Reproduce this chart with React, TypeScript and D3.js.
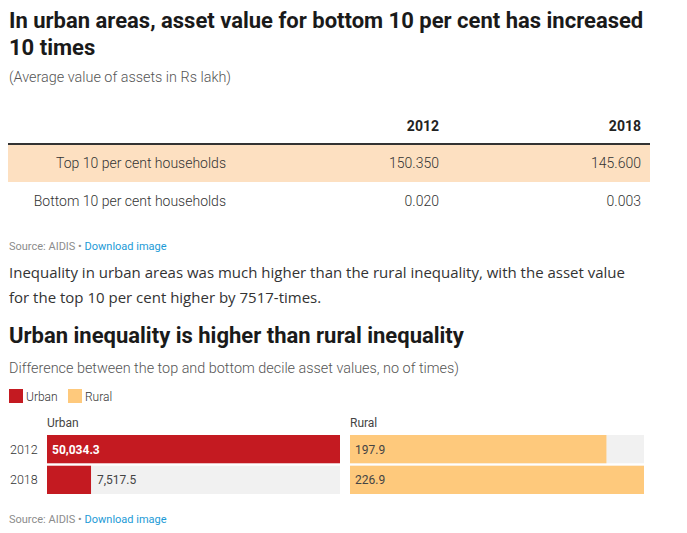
import React from "react";
import * as d3 from "d3";

const width = 687;
const height = 533;

// table: average value of assets (Rs lakh)
const tableYears = ["2012", "2018"];
const tableRows = ["Top 10 per cent households", "Bottom 10 per cent households"];
const topDecile = [150.35, 145.6];
const bottomDecile = [0.02, 0.003];

// bar panels: top vs bottom decile ratio
const barYears = ["2012", "2018"];
const urbanValues = [50034.3, 7517.5];
const ruralValues = [197.9, 226.9];
const seriesNames = ["Urban", "Rural"];

const RED = "#c41a21";
const ORANGE = "#fec97c";
const ROW_BG = "#fde0c1";
const TRACK = "#f1f1f1";
const ROBOTO = "Roboto, sans-serif";
const OPEN = "'Open Sans', sans-serif";

function Source({ y }: { y: number }) {
  return (
    <text x={9} y={y} fontFamily={ROBOTO} fontSize={11} fill="#8c8c8c">
      Source: AIDIS •{" "}
      <tspan fill="#1c9ad6">Download image</tspan>
    </text>
  );
}

function Panel({ x0, x1, name, values, color }: { x0: number; x1: number; name: string; values: number[]; color: string }) {
  const y = d3.scaleBand().domain(barYears).range([435, 494]).paddingInner(0.08);
  const x = d3.scaleLinear().domain([0, d3.max(values) as number]).range([x0, x1]);
  const fmt = d3.format(",.1f");
  const isUrban = name === "Urban";
  return (
    <g>
      <text x={x0} y={427} fontFamily={ROBOTO} fontSize={12} fill="#444">{name}</text>
      {values.map((v, i) => {
        const yy = y(barYears[i]) as number;
        const w = x(v) - x0;
        const inside = w > 60;
        return (
          <g key={i}>
            <rect x={x0} y={yy} width={x1 - x0} height={y.bandwidth()} fill={TRACK} />
            <rect x={x0} y={yy} width={w} height={y.bandwidth()} fill={color} />
            <text
              x={inside ? x0 + 5 : x(v) + 6}
              y={yy + y.bandwidth() / 2 + 4.5}
              fontFamily={ROBOTO}
              fontSize={12}
              fontWeight={isUrban && inside ? 700 : 400}
              fill={isUrban && inside ? "#fff" : "#444"}
            >
              {fmt(v)}
            </text>
          </g>
        );
      })}
    </g>
  );
}

export default function App() {
  const yearX = [439, 641];
  const rowY = d3.scaleBand().domain(tableRows).range([145, 221]);
  const num = d3.format(".3f");
  const yBars = d3.scaleBand().domain(barYears).range([435, 494]).paddingInner(0.08);

  return (
    <svg width={width} height={height} style={{ position: "absolute", left: 0, top: 0, background: "#fff" }}>
      <text fontFamily={ROBOTO} fontSize={22} fontWeight={700} fill="#1a1a1a">
        <tspan x={9} y={28}>In urban areas, asset value for bottom 10 per cent has increased</tspan>
        <tspan x={9} y={55}>10 times</tspan>
      </text>
      <text x={9} y={82} fontFamily={ROBOTO} fontSize={14.4} fontWeight={300} fill="#555">
        (Average value of assets in Rs lakh)
      </text>

      {/* table */}
      {tableYears.map((yr, i) => (
        <text key={yr} x={yearX[i]} y={131} textAnchor="end" fontFamily={ROBOTO} fontSize={14} fontWeight={700} fill="#222">
          {yr}
        </text>
      ))}
      <rect x={8} y={143} width={642} height={2} fill="#333" />
      {tableRows.map((row, r) => {
        const yy = rowY(row) as number;
        const vals = r === 0 ? topDecile : bottomDecile;
        return (
          <g key={row}>
            {r === 0 && <rect x={8} y={yy} width={642} height={rowY.bandwidth() - 1} fill={ROW_BG} />}
            <text x={226} y={yy + 23} textAnchor="end" fontFamily={ROBOTO} fontSize={14} fontWeight={300} fill="#333">
              {row}
            </text>
            {vals.map((v, i) => (
              <text key={i} x={yearX[i]} y={yy + 23} textAnchor="end" fontFamily={ROBOTO} fontSize={14} fontWeight={300} fill="#333">
                {num(v)}
              </text>
            ))}
          </g>
        );
      })}
      <Source y={250} />

      <text fontFamily={OPEN} fontSize={15} fill="#333">
        <tspan x={9} y={278}>Inequality in urban areas was much higher than the rural inequality, with the asset value</tspan>
        <tspan x={9} y={303}>for the top 10 per cent higher by 7517-times.</tspan>
      </text>

      <text x={9} y={343} fontFamily={ROBOTO} fontSize={22} fontWeight={700} fill="#1a1a1a">
        Urban inequality is higher than rural inequality
      </text>
      <text x={9} y={373} fontFamily={ROBOTO} fontSize={14.4} fontWeight={300} fill="#555">
        Difference between the top and bottom decile asset values, no of times)
      </text>

      {/* legend */}
      {seriesNames.map((s, i) => (
        <g key={s} transform={`translate(${i === 0 ? 9 : 68},389)`}>
          <rect width={14} height={14} fill={i === 0 ? RED : ORANGE} />
          <text x={17} y={11.5} fontFamily={ROBOTO} fontSize={12} fontWeight={300} fill="#333">{s}</text>
        </g>
      ))}

      {barYears.map((yr) => (
        <text key={yr} x={10} y={(yBars(yr) as number) + yBars.bandwidth() / 2 + 4.5} fontFamily={ROBOTO} fontSize={12.5} fontWeight={300} fill="#333">
          {yr}
        </text>
      ))}
      <Panel x0={47} x1={340} name="Urban" values={urbanValues} color={RED} />
      <Panel x0={350} x1={644} name="Rural" values={ruralValues} color={ORANGE} />

      <Source y={523} />
    </svg>
  );
}
